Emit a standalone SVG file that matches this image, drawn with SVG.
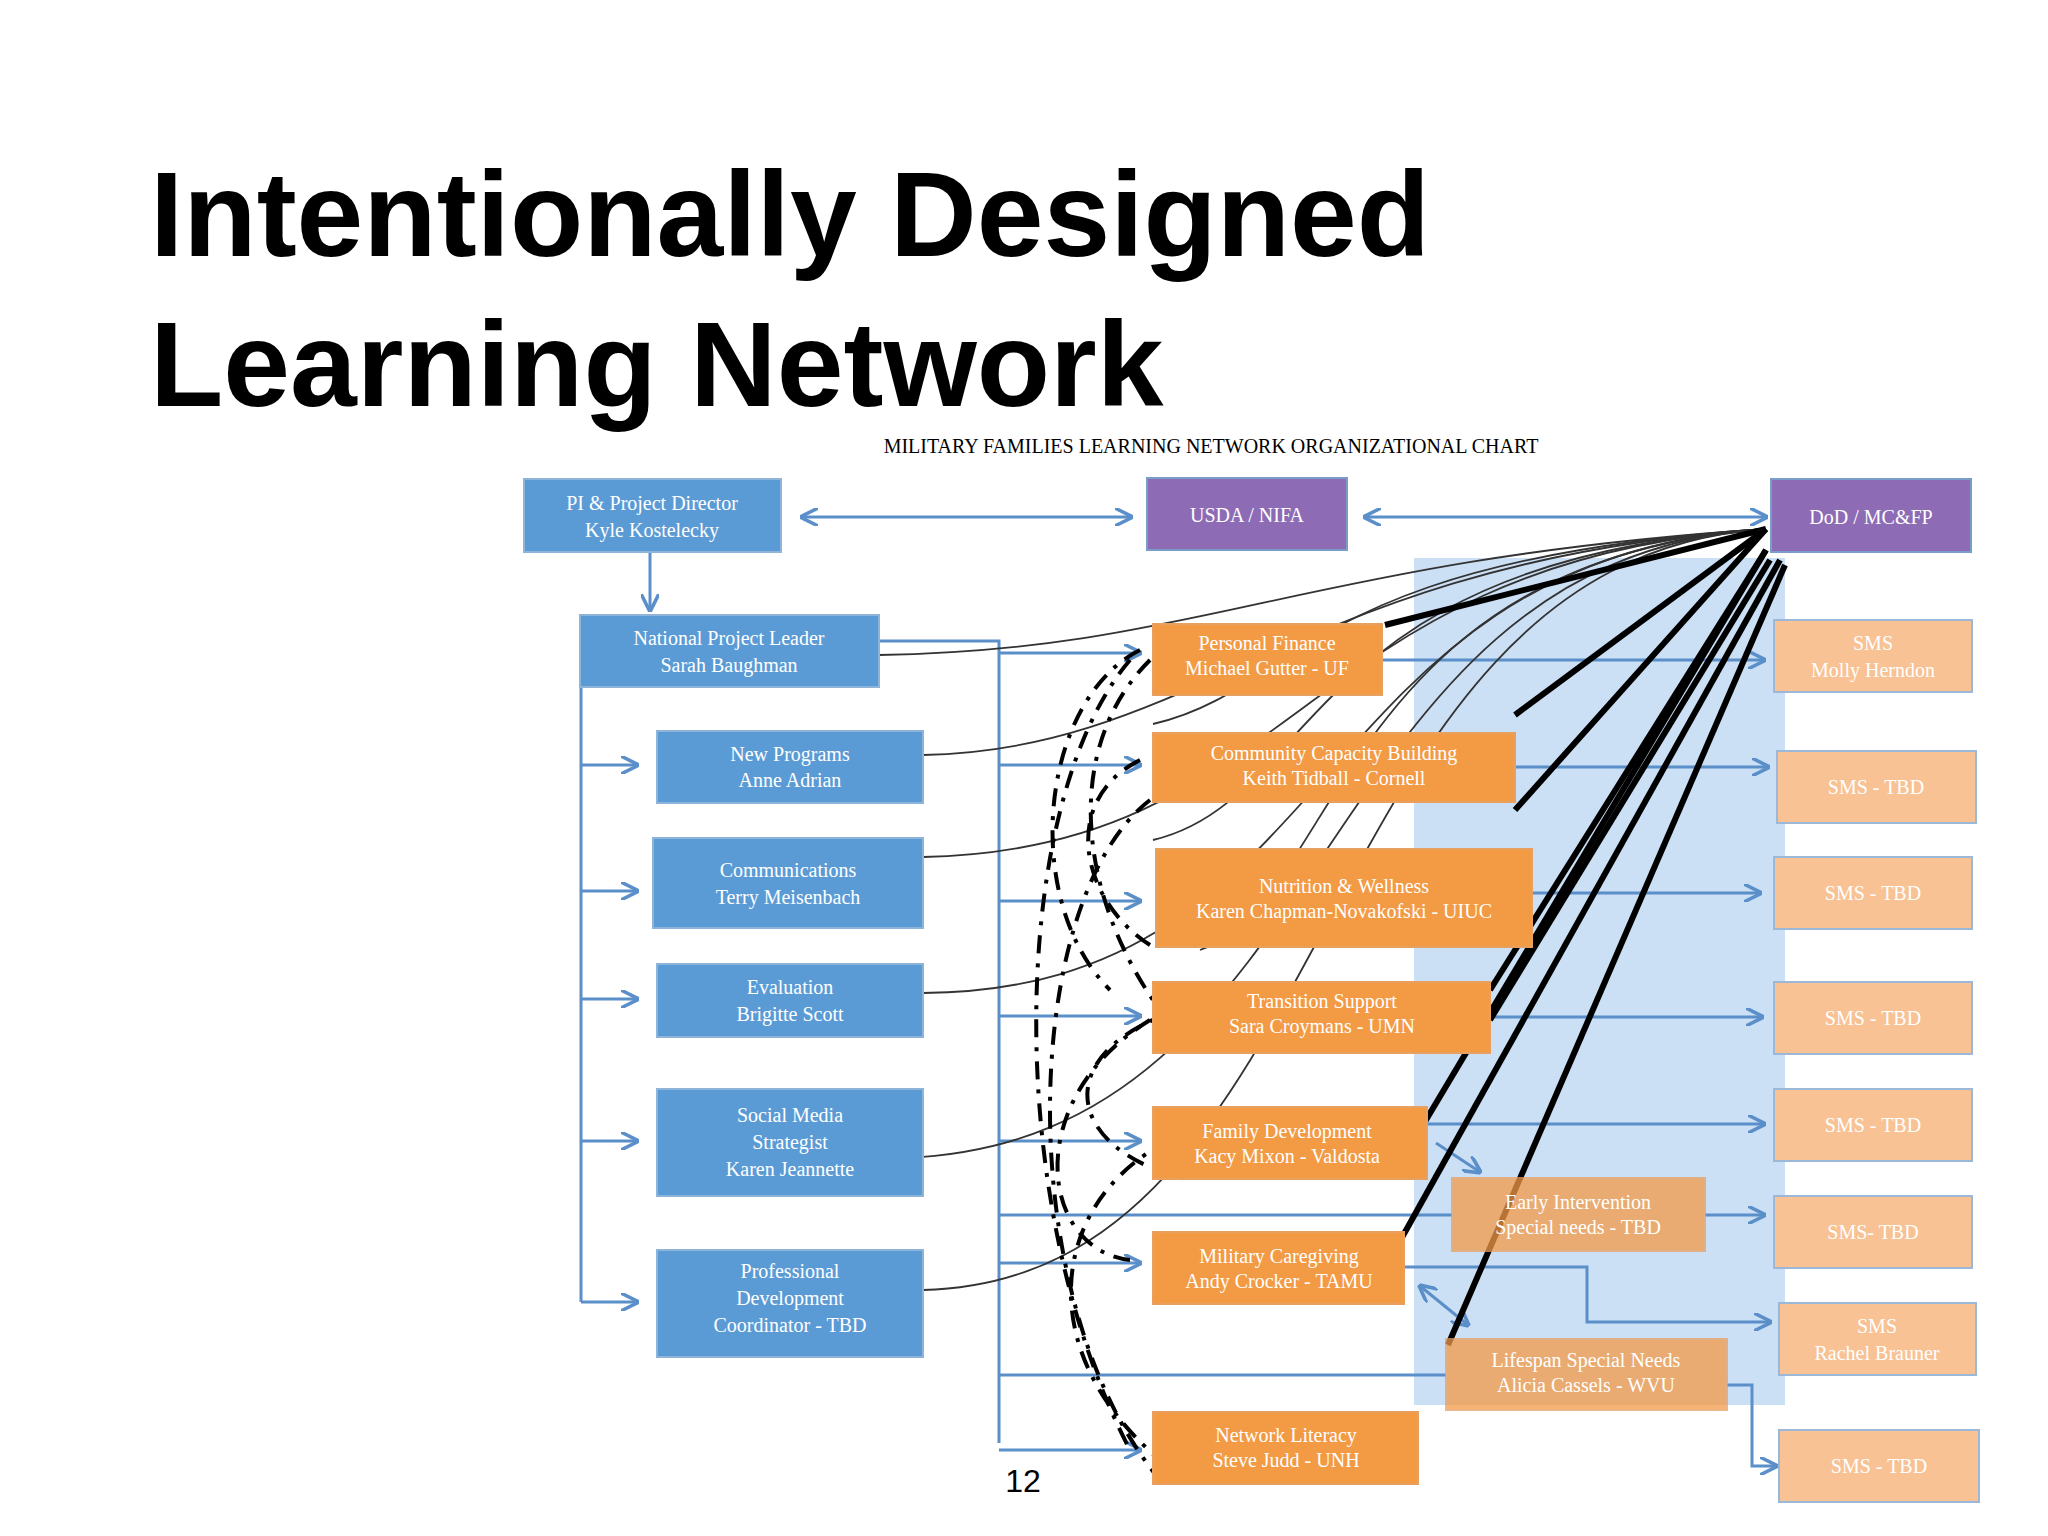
<svg xmlns="http://www.w3.org/2000/svg" width="2048" height="1536" viewBox="0 0 2048 1536">
<defs>
<style>
.t{font-family:"Liberation Sans",Arial,sans-serif;font-weight:bold;fill:#000}
.b{fill:#5b9bd5;stroke:#8fb4d9;stroke-width:2}
.p{fill:#8e6bb5;stroke:#7a9cc8;stroke-width:2}
.o{fill:#f39a45;stroke:#e8a060;stroke-width:2}
.l{fill:#f8c294;stroke:#9bb8d8;stroke-width:2}
.lb{font-family:"Liberation Serif","DejaVu Serif",serif;font-size:20px;fill:#fff;text-anchor:middle}
.c{fill:none;stroke:#5b8fc9;stroke-width:3;marker-end:url(#a)}
.cn{fill:none;stroke:#5b8fc9;stroke-width:3}
.k{fill:none;stroke:#333;stroke-width:1.8}
.K{fill:none;stroke:#000;stroke-width:6}
.d{fill:none;stroke:#000;stroke-width:4;stroke-dasharray:18 10 4 10}
</style>
<marker id="a" viewBox="0 0 10 10" refX="9" refY="5" markerWidth="6" markerHeight="6" orient="auto-start-reverse"><path d="M0,0L10,5L0,10" fill="none" stroke="#5b8fc9" stroke-width="2"/></marker>
<linearGradient id="g" x1="0" y1="0" x2="0" y2="1"><stop offset="0" stop-color="#7fb2e6"/><stop offset="1" stop-color="#4a86c8"/></linearGradient>
</defs>
<rect width="2048" height="1536" fill="#fff"/>
<text class="t" x="150" y="256" font-size="120">Intentionally Designed</text>
<text class="t" x="150" y="406" font-size="120">Learning Network</text>
<text x="1211" y="453" font-family="Liberation Serif,serif" font-size="20" text-anchor="middle">MILITARY FAMILIES LEARNING NETWORK ORGANIZATIONAL CHART</text>
<rect x="1414" y="558" width="371" height="847" fill="#a9c9ee" opacity="0.6"/>
<g id="connectors">
<path class="c" d="M802,517H1131" marker-start="url(#a)"/>
<path class="c" d="M1365,517H1766" marker-start="url(#a)"/>
<path class="c" d="M650,552V610"/>
<path class="cn" d="M581,687V1302"/>
<path class="c" d="M581,765H637"/><path class="c" d="M581,891H637"/><path class="c" d="M581,999H637"/><path class="c" d="M581,1141H637"/><path class="c" d="M581,1302H637"/>
<path class="cn" d="M879,641H999V1443"/>
<path class="c" d="M999,653H1140"/><path class="c" d="M999,765H1140"/><path class="c" d="M999,901H1140"/><path class="c" d="M999,1016H1140"/><path class="c" d="M999,1141H1140"/><path class="c" d="M999,1263H1140"/><path class="c" d="M999,1450H1140"/>
<path class="cn" d="M999,1215H1452"/><path class="cn" d="M999,1375H1446"/>
<path class="c" d="M1382,660H1764"/><path class="c" d="M1515,767H1768"/><path class="c" d="M1532,893H1760"/><path class="c" d="M1490,1017H1762"/><path class="c" d="M1427,1124H1764"/><path class="c" d="M1705,1215H1764"/>
<path class="c" d="M1436,1143L1480,1172"/><path class="c" d="M1420,1286L1468,1325" marker-start="url(#a)"/>
<path class="c" d="M1404,1267H1587V1322H1770"/>
<path class="c" d="M1727,1385H1752V1466H1776"/>
<path class="k" d="M879,655C1200,650 1300,560 1766,529"/>
<path class="k" d="M923,755C1200,750 1300,560 1766,529"/>
<path class="k" d="M923,857C1300,850 1300,560 1766,529"/>
<path class="k" d="M923,993C1350,990 1300,560 1766,529"/>
<path class="k" d="M905,1158C1350,1140 1300,560 1766,529"/>
<path class="k" d="M923,1290C1350,1280 1300,560 1766,529"/>
<path class="k" d="M1153,724C1300,690 1300,560 1766,529"/>
<path class="k" d="M1153,840C1320,800 1300,560 1766,529"/>
<path class="k" d="M1200,950C1340,900 1340,560 1766,529"/>
<path class="K" d="M1385,625L1766,529"/><path class="K" d="M1515,715L1766,529"/><path class="K" d="M1515,810L1766,529"/><path class="K" d="M1490,990L1766,550"/><path class="K" d="M1420,1130L1766,550"/><path class="K" d="M1395,1250L1780,560"/><path class="K" d="M1448,1345L1785,565"/><path class="K" d="M1490,1020L1770,560"/>
<path class="d" d="M1140,650C1040,700 1020,900 1110,990"/>
<path class="d" d="M1150,660C1060,750 1080,900 1160,1010"/>
<path class="d" d="M1140,760C1060,800 1080,900 1150,945"/>
<path class="d" d="M1180,1010C1050,1050 1060,1150 1190,1180"/>
<path class="d" d="M1150,1020C1020,1100 1040,1250 1130,1260"/>
<path class="d" d="M1130,660C1010,800 1000,1200 1130,1450"/>
<path class="d" d="M1150,800C1020,900 1010,1300 1160,1480"/>
<path class="d" d="M1170,1140C1050,1200 1030,1350 1160,1460"/>
</g>
<g id="pi"><rect class="b" x="524" y="479" width="257" height="73" fill="url(#g)"/><text class="lb" x="652" y="510">PI &amp; Project Director</text><text class="lb" x="652" y="537">Kyle Kostelecky</text></g>
<g id="usda"><rect class="p" x="1147" y="478" width="200" height="72"/><text class="lb" x="1247" y="522">USDA / NIFA</text></g>
<g id="dod"><rect class="p" x="1771" y="479" width="200" height="73"/><text class="lb" x="1871" y="524">DoD / MC&amp;FP</text></g>
<g id="npl"><rect class="b" x="580" y="615" width="299" height="72" fill="url(#g)"/><text class="lb" x="729" y="645">National Project Leader</text><text class="lb" x="729" y="672">Sarah Baughman</text></g>
<g id="np"><rect class="b" x="657" y="731" width="266" height="72" fill="url(#g)"/><text class="lb" x="790" y="761">New Programs</text><text class="lb" x="790" y="787">Anne Adrian</text></g>
<g id="comm"><rect class="b" x="653" y="838" width="270" height="90" fill="url(#g)"/><text class="lb" x="788" y="877">Communications</text><text class="lb" x="788" y="904">Terry Meisenbach</text></g>
<g id="eval"><rect class="b" x="657" y="964" width="266" height="73" fill="url(#g)"/><text class="lb" x="790" y="994">Evaluation</text><text class="lb" x="790" y="1021">Brigitte Scott</text></g>
<g id="sms"><rect class="b" x="657" y="1089" width="266" height="107" fill="url(#g)"/><text class="lb" x="790" y="1122">Social Media</text><text class="lb" x="790" y="1149">Strategist</text><text class="lb" x="790" y="1176">Karen Jeannette</text></g>
<g id="pd"><rect class="b" x="657" y="1250" width="266" height="107" fill="url(#g)"/><text class="lb" x="790" y="1278">Professional</text><text class="lb" x="790" y="1305">Development</text><text class="lb" x="790" y="1332">Coordinator - TBD</text></g>
<g id="pf"><rect class="o" x="1153" y="624" width="229" height="71"/><text class="lb" x="1267" y="650">Personal Finance</text><text class="lb" x="1267" y="675">Michael Gutter - UF</text></g>
<g id="ccb"><rect class="o" x="1153" y="733" width="362" height="69"/><text class="lb" x="1334" y="760">Community Capacity Building</text><text class="lb" x="1334" y="785">Keith Tidball - Cornell</text></g>
<g id="nw"><rect class="o" x="1156" y="849" width="376" height="98"/><text class="lb" x="1344" y="893">Nutrition &amp; Wellness</text><text class="lb" x="1344" y="918">Karen Chapman-Novakofski - UIUC</text></g>
<g id="ts"><rect class="o" x="1153" y="982" width="337" height="71"/><text class="lb" x="1322" y="1008">Transition Support</text><text class="lb" x="1322" y="1033">Sara Croymans - UMN</text></g>
<g id="fd"><rect class="o" x="1153" y="1107" width="274" height="72"/><text class="lb" x="1287" y="1138">Family Development</text><text class="lb" x="1287" y="1163">Kacy Mixon - Valdosta</text></g>
<g id="mc"><rect class="o" x="1153" y="1232" width="251" height="72"/><text class="lb" x="1279" y="1263">Military Caregiving</text><text class="lb" x="1279" y="1288">Andy Crocker - TAMU</text></g>
<g id="nl"><rect class="o" x="1153" y="1412" width="265" height="72"/><text class="lb" x="1286" y="1442">Network Literacy</text><text class="lb" x="1286" y="1467">Steve Judd - UNH</text></g>
<g id="ei"><rect class="o" x="1452" y="1178" width="253" height="73" opacity="0.75"/><text class="lb" x="1578" y="1209">Early Intervention</text><text class="lb" x="1578" y="1234">Special needs - TBD</text></g>
<g id="lsn"><rect class="o" x="1446" y="1339" width="281" height="71" opacity="0.75"/><text class="lb" x="1586" y="1367">Lifespan Special Needs</text><text class="lb" x="1586" y="1392">Alicia Cassels - WVU</text></g>
<g id="s1"><rect class="l" x="1774" y="620" width="198" height="72"/><text class="lb" x="1873" y="650">SMS</text><text class="lb" x="1873" y="677">Molly Herndon</text></g>
<g id="s2"><rect class="l" x="1777" y="751" width="199" height="72"/><text class="lb" x="1876" y="794">SMS - TBD</text></g>
<g id="s3"><rect class="l" x="1774" y="857" width="198" height="72"/><text class="lb" x="1873" y="900">SMS - TBD</text></g>
<g id="s4"><rect class="l" x="1774" y="982" width="198" height="72"/><text class="lb" x="1873" y="1025">SMS - TBD</text></g>
<g id="s5"><rect class="l" x="1774" y="1089" width="198" height="72"/><text class="lb" x="1873" y="1132">SMS - TBD</text></g>
<g id="s6"><rect class="l" x="1774" y="1196" width="198" height="72"/><text class="lb" x="1873" y="1239">SMS- TBD</text></g>
<g id="s7"><rect class="l" x="1779" y="1303" width="197" height="72"/><text class="lb" x="1877" y="1333">SMS</text><text class="lb" x="1877" y="1360">Rachel Brauner</text></g>
<g id="s8"><rect class="l" x="1779" y="1430" width="200" height="72"/><text class="lb" x="1879" y="1473">SMS - TBD</text></g>
<text x="1023" y="1492" font-family="Liberation Sans,sans-serif" font-size="32" text-anchor="middle">12</text>
</svg>
